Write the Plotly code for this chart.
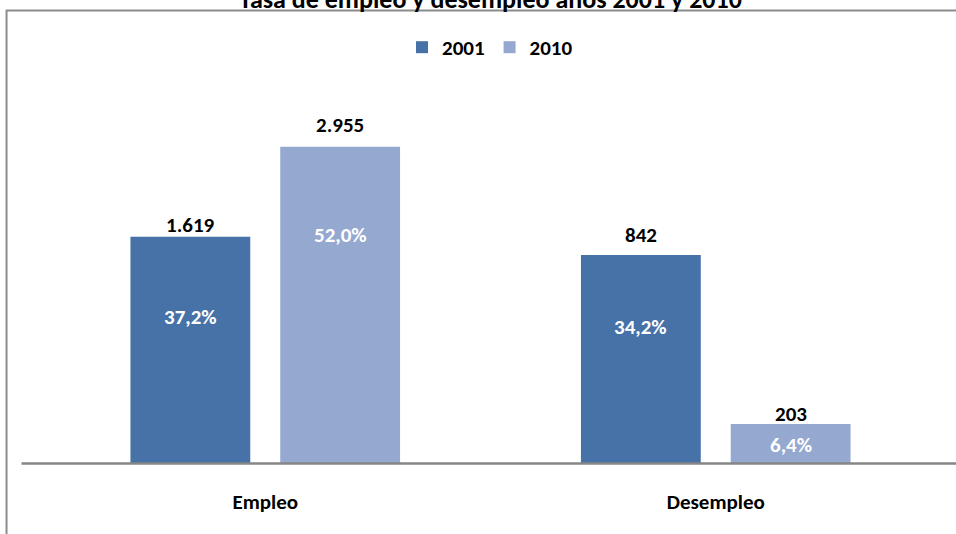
import plotly.graph_objects as go

# ---- data ----
categories = ["Empleo", "Desempleo"]
series_names = ["2001", "2010"]
pct_2001 = [37.2, 34.2]
pct_2010 = [52.0, 6.4]
count_2001 = ["1.619", "842"]
count_2010 = ["2.955", "203"]
pct_text_2001 = ["37,2%", "34,2%"]
pct_text_2010 = ["52,0%", "6,4%"]
title_text = "Tasa de empleo y desempleo años 2001 y 2010"

# ---- style ----
FONT = "Carlito, Calibri, Lato, sans-serif"
C2001 = "#4672A8"
C2010 = "#95A9D0"
W, H = 956, 534
ML, MR, MT, MB = 39.5, 14.5, 98.4, 71
PW = W - ML - MR
PH = H - MT - MB
LBL = 21


def px_x(p):
    return (p - ML) / PW


def px_y(p):
    return 1 + (MT - p) / PH


fig = go.Figure()
fig.add_trace(go.Bar(x=categories, y=pct_2001, name=series_names[0],
                     marker=dict(color=C2001, line=dict(width=0))))
fig.add_trace(go.Bar(x=categories, y=pct_2010, name=series_names[1],
                     marker=dict(color=C2010, line=dict(width=0))))

annotations = []
bar_shift = [-75, 75]
count_lift = [[12, 20], [22, 10]]     # px above bar top, per series/category
pct_drop = [[80, 72], [88, 21]]       # px below bar top
series_vals = [pct_2001, pct_2010]
series_counts = [count_2001, count_2010]
series_pcts = [pct_text_2001, pct_text_2010]
for s in range(2):
    for i, cat in enumerate(categories):
        v = series_vals[s][i]
        annotations.append(dict(
            x=cat, y=v, xref="x", yref="y", text="<b>%s</b>" % series_counts[s][i],
            showarrow=False, xshift=bar_shift[s], yshift=count_lift[s][i],
            yanchor="middle", xanchor="center",
            font=dict(family=FONT, size=LBL, color="#000000")))
        annotations.append(dict(
            x=cat, y=v, xref="x", yref="y", text="<b>%s</b>" % series_pcts[s][i],
            showarrow=False, xshift=bar_shift[s], yshift=-pct_drop[s][i],
            yanchor="middle", xanchor="center",
            font=dict(family=FONT, size=LBL, color="#FFFFFF")))

annotations.append(dict(
    x=px_x(490), y=px_y(-0.5), xref="paper", yref="paper",
    text="<b>%s</b>" % title_text, showarrow=False,
    xanchor="center", yanchor="middle",
    font=dict(family=FONT, size=26, color="#000000")))

shapes = [
    dict(type="rect", xref="paper", yref="paper",
         x0=px_x(6), x1=px_x(W + 20), y0=px_y(H + 20), y1=px_y(11),
         line=dict(color="#8C8C8C", width=2), fillcolor="rgba(0,0,0,0)", layer="below"),
    dict(type="line", xref="paper", yref="paper",
         x0=px_x(21), x1=px_x(W + 20), y0=px_y(463.5), y1=px_y(463.5),
         line=dict(color="#868686", width=2.5), layer="above"),
]

fig.update_layout(
    width=W, height=H,
    margin=dict(l=ML, r=MR, t=MT, b=MB, pad=0),
    paper_bgcolor="white", plot_bgcolor="white",
    barmode="group", bargap=0.335, bargroupgap=0.2,
    font=dict(family=FONT, size=LBL, color="#000000"),
    showlegend=True,
    legend=dict(orientation="h", x=px_x(490), xanchor="center",
                y=px_y(48), yanchor="middle",
                font=dict(family=FONT, size=LBL, weight="bold"),
                itemwidth=30, traceorder="normal",
                bgcolor="rgba(0,0,0,0)"),
    annotations=annotations,
    shapes=shapes,
    xaxis=dict(showgrid=False, showline=False, zeroline=False, ticks="",
               tickfont=dict(family=FONT, size=LBL, weight="bold"),
               ticklabelstandoff=24, fixedrange=True),
    yaxis=dict(range=[0, 60], visible=False, showgrid=False, zeroline=False,
               fixedrange=True),
)

fig.write_html("out.html",
               config={"displayModeBar": False},
               post_script="document.body.style.margin='0';document.body.style.overflow='hidden';")
